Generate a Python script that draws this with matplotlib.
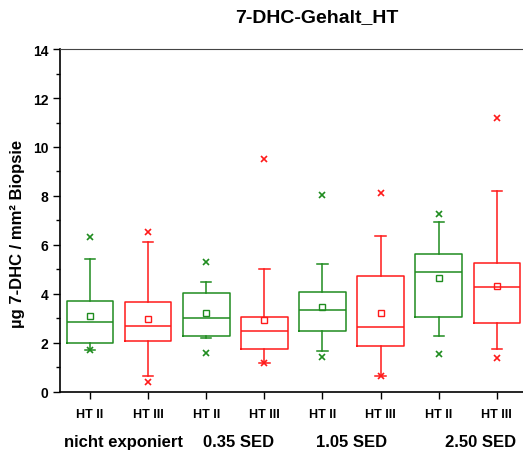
import numpy as np
import matplotlib
matplotlib.use("Agg")
import matplotlib.pyplot as plt
from matplotlib.ticker import MultipleLocator

plt.rcParams['font.family'] = ['Liberation Sans', 'DejaVu Sans']

# box statistics
labels = ['HT II', 'HT III'] * 4
groups = ['nicht exponiert', '0.35 SED', '1.05 SED', '2.50 SED']
q1 = [1.98, 2.05, 2.28, 1.74, 2.47, 1.85, 3.03, 2.80]
med = [2.83, 2.66, 2.99, 2.49, 3.33, 2.62, 4.90, 4.29]
q3 = [3.71, 3.65, 4.03, 3.03, 4.08, 4.71, 5.61, 5.24]
whislo = [1.71, 0.62, 2.17, 1.15, 1.64, 0.62, 2.27, 1.72]
whishi = [5.42, 6.10, 4.49, 5.01, 5.23, 6.34, 6.94, 8.18]
means = [3.07, 2.96, 3.20, 2.94, 3.44, 3.20, 4.63, 4.30]
fliers = [[6.32, 1.70], [6.53, 0.40], [5.29, 1.56], [9.50, 1.15],
          [8.05, 1.40], [8.10, 0.62], [7.26, 1.52], [11.20, 1.36]]

green = '#1f8c1f'
red = '#ff1a1a'
colors = [green, red] * 4

fig = plt.figure(figsize=(5.23, 4.52), dpi=100)
ax = fig.add_axes([0.1147, 0.1316, 0.8853, 0.7574])

positions = np.arange(1, 9)
for i in range(8):
    st = dict(q1=q1[i], med=med[i], q3=q3[i], whislo=whislo[i], whishi=whishi[i],
              mean=means[i], fliers=fliers[i])
    c = colors[i]
    ax.bxp([st], positions=[positions[i]], widths=0.8, showmeans=True,
           patch_artist=False, manage_ticks=False,
           boxprops=dict(color=c, lw=1.1),
           medianprops=dict(color=c, lw=1.1),
           whiskerprops=dict(color=c, lw=1.1),
           capprops=dict(color=c, lw=1.1),
           capwidths=0.18,
           meanprops=dict(marker='s', markerfacecolor='none', markeredgecolor=c,
                          markersize=5, markeredgewidth=1.0),
           flierprops=dict(marker='x', markeredgecolor=c, markersize=4,
                           markeredgewidth=1.2))

ax.set_xlim(0.483, 8.45)
ax.set_ylim(0, 14)
ax.yaxis.set_major_locator(MultipleLocator(2))
ax.yaxis.set_minor_locator(MultipleLocator(1))
ax.set_xticks(positions)
ax.set_xticklabels(labels, fontweight='bold', fontsize=9)
ax.tick_params(axis='y', labelsize=10, width=1, length=5)
ax.tick_params(axis='y', which='minor', length=3, width=1)
ax.tick_params(axis='x', length=5, width=1, pad=7)
for lab in ax.get_yticklabels():
    lab.set_fontweight('bold')

ax.spines['right'].set_visible(False)
ax.spines['top'].set_color('#444444')
ax.spines['left'].set_linewidth(1.2)
ax.spines['bottom'].set_linewidth(1.2)

ax.set_title('7-DHC-Gehalt_HT', fontsize=14, fontweight='bold', pad=20, x=0.555)
ax.set_ylabel('µg 7-DHC / mm² Biopsie', fontsize=12, fontweight='bold')
ax.yaxis.set_label_coords(-0.075, 0.463)

group_x = [1.57, 3.55, 5.5, 7.72]
for gx, g in zip(group_x, groups):
    ax.text(gx, -0.145, g, transform=ax.get_xaxis_transform(), ha='center', va='center',
            fontsize=12, fontweight='bold')

fig.savefig('out.png', dpi=100)
